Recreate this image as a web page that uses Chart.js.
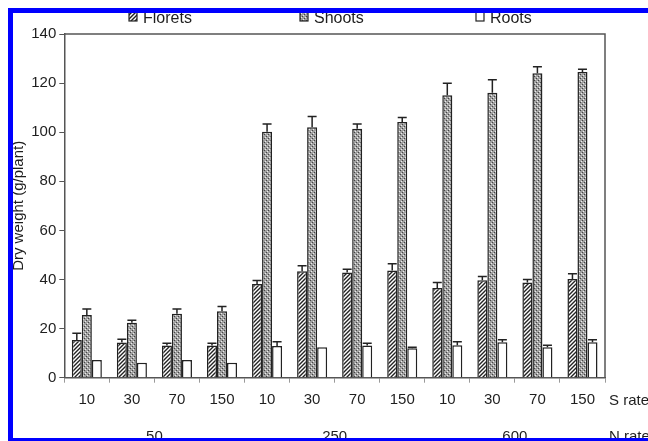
<!DOCTYPE html>
<html>
<head>
<meta charset="utf-8">
<script src="https://cdn.jsdelivr.net/npm/chart.js@4"></script>
<style>
  html, body { margin: 0; padding: 0; background: #fff; overflow: hidden; }
  #wrap { position: relative; width: 648px; height: 441px; overflow: hidden; }
  #frame { position: absolute; left: 8px; top: 8px; width: 700px; height: 425px;
           border-top: 5px solid #0000ff; border-left: 5px solid #0000ff; border-bottom: 3px solid #0000ff;
           pointer-events: none; }
</style>
</head>
<body>
<div id="wrap">
  <canvas id="myChart" width="648" height="441"></canvas>
  <div id="frame"></div>
</div>
<script>
'use strict'

// S rate under each group, N rate for every 4 groups
const sRates = ['10', '30', '70', '150', '10', '30', '70', '150', '10', '30', '70', '150'];
const nRates = ['50', '250', '600'];

const florets    = [15.4, 14.3, 13.1, 13.1, 38.2, 43.4, 42.9, 43.7, 36.5, 39.7, 38.8, 40.2];
const floretsErr = [2.7, 1.4, 0.9, 0.9, 1.4, 2.2, 1.3, 2.7, 2.3, 1.5, 1.2, 2.1];
const shoots     = [25.5, 22.4, 26.0, 27.1, 100.2, 102.0, 101.4, 104.2, 115.1, 116.1, 124.0, 124.5];
const shootsErr  = [2.5, 1.0, 2.0, 1.9, 3.1, 4.4, 1.9, 1.8, 4.8, 5.3, 2.7, 1.1];
const roots      = [7.2, 6.1, 7.2, 6.1, 12.9, 12.4, 13.1, 12.0, 13.2, 14.4, 12.4, 14.4];
const rootsErr   = [0, 0, 0, 0, 1.7, 0, 0.9, 0.4, 1.4, 1.1, 0.8, 1.1];

const FONT = 'Liberation Sans, Arial, sans-serif';
const INK = '#1e1e1e';

// fill patterns
function hatchPattern() {
  const c = document.createElement('canvas');
  c.width = 4; c.height = 4;
  const g = c.getContext('2d');
  g.fillStyle = '#fff';
  g.fillRect(0, 0, 4, 4);
  g.strokeStyle = '#222';
  g.lineWidth = 1.4;
  g.beginPath();
  g.moveTo(0, 4); g.lineTo(4, 0);
  g.moveTo(-1, 1); g.lineTo(1, -1);
  g.moveTo(3, 5); g.lineTo(5, 3);
  g.stroke();
  return g.createPattern(c, 'repeat');
}

function dotPattern() {
  const c = document.createElement('canvas');
  c.width = 4; c.height = 4;
  const g = c.getContext('2d');
  g.fillStyle = '#a0a0a0';
  g.fillRect(0, 0, 4, 4);
  g.fillStyle = '#ececec';
  g.fillRect(1, 1, 1, 1); g.fillRect(3, 3, 1, 1);
  g.fillStyle = '#444';
  g.fillRect(0, 2, 1, 1); g.fillRect(2, 0, 1, 1);
  return g.createPattern(c, 'repeat');
}

// upper error bars
const errorBars = {
  id: 'errorBars',
  afterDatasetsDraw(chart) {
    const ctx = chart.ctx;
    const y = chart.scales.y;
    ctx.save();
    ctx.strokeStyle = '#222';
    ctx.lineWidth = 1.5;
    chart.data.datasets.forEach((ds, i) => {
      chart.getDatasetMeta(i).data.forEach((bar, j) => {
        const e = ds.errors[j];
        if (!e) return;
        const top = y.getPixelForValue(ds.data[j] + e);
        ctx.beginPath();
        ctx.moveTo(bar.x, bar.y);
        ctx.lineTo(bar.x, top);
        ctx.moveTo(bar.x - 4.5, top);
        ctx.lineTo(bar.x + 4.5, top);
        ctx.stroke();
      });
    });
    ctx.restore();
  }
};

// box round plot, legend on top, axis names on the right
const extras = {
  id: 'extras',
  afterDraw(chart) {
    const ctx = chart.ctx;
    const a = chart.chartArea;
    ctx.save();
    ctx.strokeStyle = '#555';
    ctx.lineWidth = 1.5;
    ctx.beginPath();
    ctx.moveTo(a.left, a.top);
    ctx.lineTo(a.right, a.top);
    ctx.lineTo(a.right, a.bottom);
    ctx.stroke();

    // legend
    const legX = [129, 300, 476];
    ctx.font = '16px ' + FONT;
    ctx.textBaseline = 'alphabetic';
    ctx.fillStyle = INK;
    chart.data.datasets.forEach((ds, i) => {
      ctx.fillStyle = ds.backgroundColor;
      ctx.fillRect(legX[i], 12, 8, 9);
      ctx.strokeStyle = '#222';
      ctx.lineWidth = 1.2;
      ctx.strokeRect(legX[i], 12, 8, 9);
      ctx.fillStyle = INK;
      ctx.fillText(ds.label, legX[i] + 14, 23);
    });

    // S rate / N rate
    ctx.font = '15px ' + FONT;
    ctx.textBaseline = 'middle';
    ctx.fillText('S rate', a.right + 4, 401);
    ctx.fillText('N rate', a.right + 4, 437);
    ctx.restore();
  }
};

const data = {
  labels: sRates,
  datasets: [
    { label: 'Florets', data: florets, errors: floretsErr, backgroundColor: hatchPattern(),
      borderColor: '#222', borderWidth: 1.5 },
    { label: 'Shoots', data: shoots, errors: shootsErr, backgroundColor: dotPattern(),
      borderColor: '#222', borderWidth: 1.5 },
    { label: 'Roots', data: roots, errors: rootsErr, backgroundColor: '#fff',
      borderColor: '#222', borderWidth: 1.5 }
  ]
};

const config = {
  type: 'bar',
  data: data,
  options: {
    responsive: false,
    animation: false,
    categoryPercentage: 0.667,
    barPercentage: 1.0,
    layout: { padding: { left: 8, top: 34, right: 43, bottom: 0 } },
    plugins: { legend: { display: false }, tooltip: { enabled: false } },
    scales: {
      x: {
        grid: { offset: true, drawOnChartArea: false, tickLength: 5, color: '#999' },
        border: { color: '#555', width: 1.5 },
        ticks: { color: INK, font: { family: FONT, size: 15 }, padding: 8 },
        afterFit(s) { s.height = 36; }
      },
      x2: {
        type: 'category',
        labels: nRates,
        position: 'bottom',
        offset: true,
        grid: { display: false, drawTicks: false },
        border: { display: false },
        ticks: { color: INK, font: { family: FONT, size: 15 }, padding: 14 },
        afterFit(s) { s.height = 27.3; }
      },
      y: {
        min: 0,
        max: 140,
        ticks: { stepSize: 20, color: INK, font: { family: FONT, size: 15 }, padding: 3 },
        grid: { drawOnChartArea: false, tickLength: 5, color: '#555' },
        border: { color: '#555', width: 1.5 },
        title: { display: true, text: 'Dry weight (g/plant)', color: INK,
                 font: { family: FONT, size: 15 }, padding: { top: 2, bottom: 0 } },
        afterFit(s) { s.width = 56.3; }
      }
    }
  },
  plugins: [errorBars, extras]
};

new Chart(document.getElementById('myChart'), config);
</script>
</body>
</html>
